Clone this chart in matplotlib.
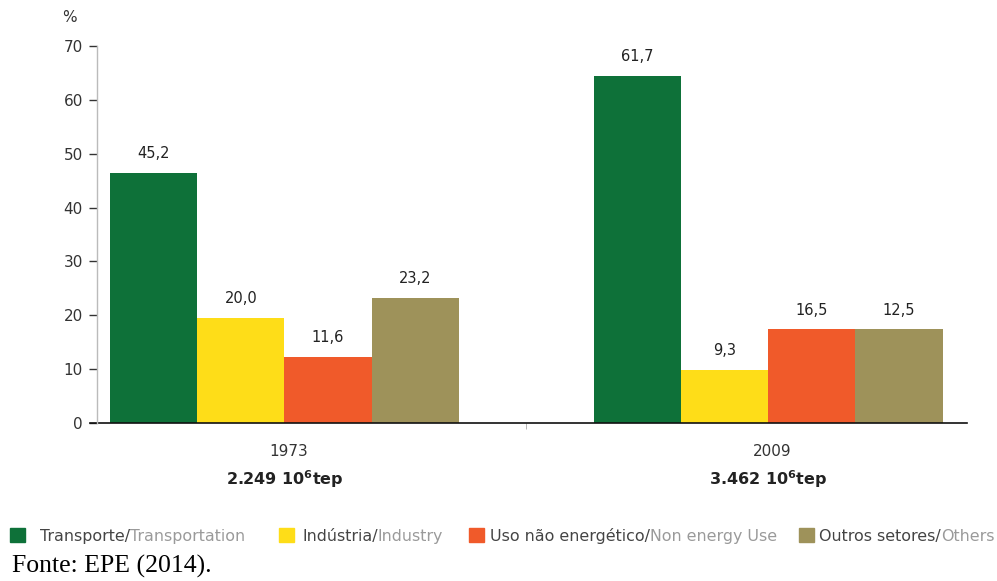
import numpy as np
import matplotlib
matplotlib.use("Agg")
import matplotlib.pyplot as plt
from matplotlib.patches import Rectangle

plt.rcParams["font.family"] = ["DejaVu Sans"]
plt.rcParams["mathtext.default"] = "regular"

# dados
anos = ["1973", "2009"]
totais = ["2.249 10$^6$tep", "3.462 10$^6$tep"]
setores_pt = ["Transporte/", "Indústria/", "Uso não energético/", "Outros setores/"]
setores_en = ["Transportation", "Industry", "Non energy Use", "Others"]
# altura desenhada das barras (como aparece no gráfico)
alturas = {
    "1973": [46.4, 19.5, 12.3, 23.2],
    "2009": [64.4, 9.9, 17.4, 17.4],
}
# rótulos impressos acima das barras
rotulos = {
    "1973": ["45,2", "20,0", "11,6", "23,2"],
    "2009": ["61,7", "9,3", "16,5", "12,5"],
}
cores = ["#0e7139", "#fedd18", "#f05a2a", "#9e925a"]

W, H = 997, 581
fig = plt.figure(figsize=(W / 100, H / 100), dpi=100)
ax = fig.add_axes([96.7 / W, 1 - 423.3 / H, 870 / W, (423.3 - 45.7) / H])

largura = 0.18
x = np.arange(len(anos))
for i in range(len(setores_pt)):
    vals = [alturas[a][i] for a in anos]
    pos = x + (i - 1.5) * largura
    ax.bar(pos, vals, width=largura, color=cores[i], edgecolor="none")
    for p, v, a in zip(pos, vals, anos):
        ax.text(p, v + 2.2, rotulos[a][i], ha="center", va="bottom",
                fontsize=10.5, color="#222222")

ax.set_ylim(0, 70)
ax.set_xlim(-0.388, 1.41)
ax.set_yticks(range(0, 71, 10))
ax.tick_params(axis="y", length=6, width=1, color="#333333", labelsize=11,
               labelcolor="#333333", pad=4)
ax.set_xticks([0.5])
ax.set_xticklabels([""])
ax.tick_params(axis="x", length=4, width=0.6, color="#aaaaaa", direction="out")

for s in ["top", "right", "bottom"]:
    ax.spines[s].set_visible(False)
ax.spines["left"].set_color("#bbbbbb")
ax.spines["left"].set_linewidth(1)
ax.plot([-6.7 / 870, 1], [0, 0], transform=ax.transAxes, color="#111111",
        lw=1.2, clip_on=False)

# rótulos das categorias
for xi, ano, tot in zip(x, anos, totais):
    xd = ax.transData.transform((xi, 0))[0] / W
    fig.text(xd + 4 / W, 1 - 452 / H, ano, ha="center", va="center",
             fontsize=11, color="#333333")
    fig.text(xd, 1 - 479 / H, tot, ha="center", va="center",
             fontsize=11.5, color="#222222", fontweight="semibold")

fig.text(62 / W, 1 - 17 / H, "%", ha="left", va="center", fontsize=11,
         color="#333333")

# legenda manual com duas cores
renderer = fig.canvas.get_renderer()
leg_q = [10, 279, 469, 799]
leg_t = [40, 302, 490, 819]
ly = 1 - 541 / H
for xq, xt, pt, en, c in zip(leg_q, leg_t, setores_pt, setores_en, cores):
    fig.patches.append(Rectangle((xq / W, 1 - 542 / H), 15 / W, 14 / H,
                                 transform=fig.transFigure, color=c))
    t1 = fig.text(xt / W, ly, pt, ha="left", va="baseline",
                  fontsize=11.4, color="#444444")
    bb = t1.get_window_extent(renderer)
    fig.text(bb.x1 / W, ly, en, ha="left", va="baseline", fontsize=11.4,
             color="#9a9a9a")

fig.text(12 / W, 1 - 572.5 / H, "Fonte: EPE (2014).", ha="left", va="baseline",
         fontsize=18.5, family=["Liberation Serif", "DejaVu Serif"],
         color="black")

fig.savefig("out.png", dpi=100)
